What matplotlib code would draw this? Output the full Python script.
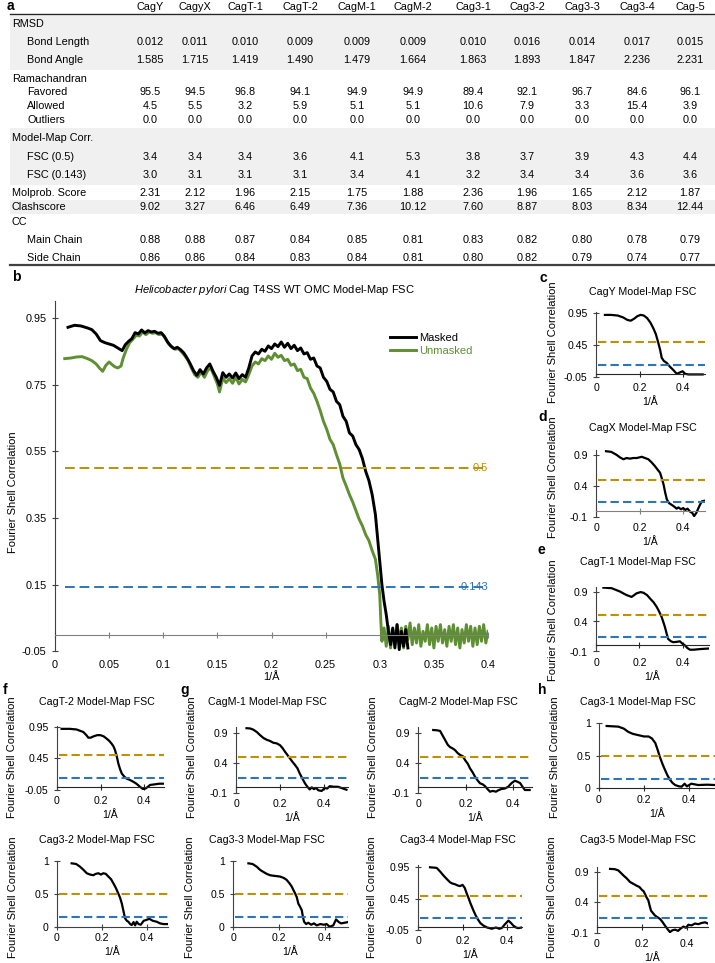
import matplotlib.pyplot as plt
from matplotlib.patches import Rectangle
from matplotlib.lines import Line2D
from matplotlib.ticker import FuncFormatter

plt.rcParams['font.family'] = ['Liberation Sans', 'DejaVu Sans']
plt.rcParams['mathtext.fontset'] = 'custom'
plt.rcParams['mathtext.it'] = 'Liberation Sans:italic'
plt.rcParams['mathtext.rm'] = 'Liberation Sans'

# --- Panel a: validation table ---
structures = ["CagY", "CagyX", "CagT-1", "CagT-2", "CagM-1", "CagM-2",
              "Cag3-1", "Cag3-2", "Cag3-3", "Cag3-4", "Cag-5"]
bond_length = [0.012, 0.011, 0.010, 0.009, 0.009, 0.009, 0.010, 0.016, 0.014, 0.017, 0.015]
bond_angle = [1.585, 1.715, 1.419, 1.490, 1.479, 1.664, 1.863, 1.893, 1.847, 2.236, 2.231]
rama_favored = [95.5, 94.5, 96.8, 94.1, 94.9, 94.9, 89.4, 92.1, 96.7, 84.6, 96.1]
rama_allowed = [4.5, 5.5, 3.2, 5.9, 5.1, 5.1, 10.6, 7.9, 3.3, 15.4, 3.9]
rama_outliers = [0.0, 0.0, 0.0, 0.0, 0.0, 0.0, 0.0, 0.0, 0.0, 0.0, 0.0]
fsc_05 = [3.4, 3.4, 3.4, 3.6, 4.1, 5.3, 3.8, 3.7, 3.9, 4.3, 4.4]
fsc_0143 = [3.0, 3.1, 3.1, 3.1, 3.4, 4.1, 3.2, 3.4, 3.4, 3.6, 3.6]
molprobity = [2.31, 2.12, 1.96, 2.15, 1.75, 1.88, 2.36, 1.96, 1.65, 2.12, 1.87]
clashscore = [9.02, 3.27, 6.46, 6.49, 7.36, 10.12, 7.60, 8.87, 8.03, 8.34, 12.44]
cc_main = [0.88, 0.88, 0.87, 0.84, 0.85, 0.81, 0.83, 0.82, 0.80, 0.78, 0.79]
cc_side = [0.86, 0.86, 0.84, 0.83, 0.84, 0.81, 0.80, 0.82, 0.79, 0.74, 0.77]

# --- Panel b: whole OMC model-map FSC ---
masked_x = [0.012, 0.018, 0.024, 0.030, 0.034, 0.038, 0.042, 0.046, 0.050, 0.054, 0.058, 0.062,
            0.065, 0.068, 0.071, 0.074, 0.077, 0.080, 0.083, 0.086, 0.089, 0.092, 0.095, 0.098,
            0.101, 0.104, 0.107, 0.110, 0.113, 0.116, 0.119, 0.122, 0.125, 0.128, 0.131, 0.134,
            0.137, 0.140, 0.143, 0.146, 0.149, 0.152, 0.155, 0.158, 0.161, 0.164, 0.167, 0.170,
            0.173, 0.176, 0.179, 0.182, 0.185, 0.188, 0.191, 0.194, 0.197, 0.200, 0.203, 0.206,
            0.209, 0.212, 0.215, 0.218, 0.221, 0.224, 0.227, 0.230, 0.233, 0.236, 0.239, 0.242,
            0.245, 0.248, 0.251, 0.254, 0.257, 0.260, 0.263, 0.266, 0.269, 0.272, 0.275, 0.278,
            0.281, 0.284, 0.287, 0.290, 0.293, 0.296, 0.298, 0.300, 0.302, 0.304, 0.306, 0.308,
            0.310, 0.312, 0.314, 0.316, 0.318, 0.320, 0.322, 0.324, 0.326]
masked_y = [0.922, 0.928, 0.926, 0.920, 0.915, 0.902, 0.882, 0.876, 0.872, 0.868, 0.860, 0.852,
            0.870, 0.880, 0.888, 0.906, 0.902, 0.914, 0.905, 0.912, 0.908, 0.910, 0.904, 0.906,
            0.895, 0.878, 0.866, 0.858, 0.862, 0.855, 0.845, 0.830, 0.812, 0.792, 0.778, 0.795,
            0.782, 0.800, 0.812, 0.790, 0.772, 0.748, 0.786, 0.772, 0.782, 0.770, 0.785, 0.768,
            0.780, 0.772, 0.800, 0.836, 0.848, 0.842, 0.856, 0.850, 0.866, 0.858, 0.872, 0.864,
            0.878, 0.862, 0.874, 0.858, 0.868, 0.852, 0.860, 0.842, 0.846, 0.826, 0.830, 0.806,
            0.800, 0.772, 0.760, 0.736, 0.728, 0.700, 0.690, 0.655, 0.640, 0.605, 0.596, 0.570,
            0.555, 0.528, 0.490, 0.462, 0.420, 0.360, 0.290, 0.220, 0.150, 0.100, 0.060, 0.010,
            -0.030, 0.020, -0.040, 0.030, -0.045, 0.010, -0.035, 0.015, -0.040]
unmasked_x = [0.009, 0.015, 0.020, 0.025, 0.030, 0.034, 0.038, 0.041, 0.044, 0.047, 0.050, 0.052,
              0.055, 0.058, 0.061, 0.063, 0.066, 0.069, 0.072, 0.075, 0.078, 0.081, 0.084, 0.087,
              0.090, 0.093, 0.096, 0.099, 0.102, 0.105, 0.108, 0.111, 0.114, 0.117, 0.120, 0.123,
              0.126, 0.129, 0.132, 0.135, 0.138, 0.141, 0.144, 0.147, 0.150, 0.152, 0.155, 0.158,
              0.161, 0.164, 0.167, 0.170, 0.173, 0.176, 0.179, 0.182, 0.185, 0.188, 0.191, 0.194,
              0.197, 0.200, 0.203, 0.206, 0.209, 0.212, 0.215, 0.218, 0.221, 0.224, 0.227, 0.230,
              0.233, 0.236, 0.239, 0.242, 0.245, 0.248, 0.251, 0.254, 0.257, 0.260, 0.263, 0.266,
              0.269, 0.272, 0.275, 0.278, 0.281, 0.284, 0.287, 0.290, 0.293, 0.296, 0.298, 0.300,
              0.301, 0.302, 0.304, 0.306, 0.308, 0.310, 0.312, 0.314, 0.316, 0.318, 0.320, 0.322,
              0.324, 0.326, 0.328, 0.330, 0.332, 0.334, 0.336, 0.338, 0.340, 0.342, 0.344, 0.346,
              0.348, 0.350, 0.352, 0.354, 0.356, 0.358, 0.360, 0.362, 0.364, 0.366, 0.368, 0.370,
              0.372, 0.374, 0.376, 0.378, 0.380, 0.382, 0.384, 0.386, 0.388, 0.390, 0.392, 0.394,
              0.396, 0.398, 0.400]
unmasked_y = [0.828, 0.830, 0.833, 0.834, 0.828, 0.822, 0.812, 0.800, 0.790, 0.808, 0.818, 0.812,
              0.804, 0.800, 0.806, 0.830, 0.856, 0.876, 0.886, 0.898, 0.896, 0.908, 0.900, 0.908,
              0.904, 0.906, 0.900, 0.902, 0.888, 0.872, 0.862, 0.856, 0.858, 0.848, 0.836, 0.822,
              0.800, 0.780, 0.772, 0.788, 0.772, 0.792, 0.800, 0.776, 0.752, 0.728, 0.770, 0.756,
              0.768, 0.754, 0.772, 0.752, 0.766, 0.758, 0.780, 0.806, 0.818, 0.812, 0.828, 0.822,
              0.836, 0.826, 0.844, 0.832, 0.838, 0.822, 0.826, 0.808, 0.812, 0.792, 0.796, 0.772,
              0.768, 0.740, 0.724, 0.700, 0.672, 0.640, 0.616, 0.586, 0.570, 0.540, 0.512, 0.470,
              0.446, 0.420, 0.398, 0.372, 0.346, 0.326, 0.300, 0.282, 0.252, 0.226, 0.180, 0.120,
              0.040, -0.020, 0.020, -0.035, 0.025, -0.040, 0.015, -0.030, 0.030, -0.020, 0.020, -0.040,
              0.025, -0.015, 0.035, -0.030, 0.020, -0.025, 0.030, -0.035, 0.010, -0.020, 0.030, -0.030,
              0.020, -0.040, 0.025, -0.020, 0.030, -0.025, 0.015, -0.035, 0.025, -0.020, 0.030, -0.030,
              0.020, -0.040, 0.015, -0.025, 0.030, -0.020, 0.025, -0.035, 0.020, -0.030, 0.025, -0.020,
              0.030, -0.025, 0.010]
fsc_thresholds = [0.5, 0.143]

# --- Panels c-h: per-chain model-map FSC ---
cagy_x = [0.041, 0.07, 0.10, 0.125, 0.145, 0.16, 0.175, 0.19, 0.205, 0.22, 0.235, 0.25, 0.263,
          0.275, 0.285, 0.295, 0.302, 0.312, 0.325, 0.34, 0.355, 0.371, 0.385, 0.398, 0.41,
          0.425, 0.446, 0.47, 0.49]
cagy_y = [0.92, 0.92, 0.91, 0.88, 0.84, 0.83, 0.86, 0.90, 0.92, 0.91, 0.87, 0.80, 0.715,
          0.62, 0.50, 0.37, 0.25, 0.20, 0.17, 0.11, 0.06, 0.0, 0.02, 0.04, 0.0,
          -0.01, -0.01, -0.01, -0.01]
cagx_x = [0.046, 0.07, 0.095, 0.11, 0.126, 0.14, 0.156, 0.17, 0.187, 0.21, 0.225, 0.24, 0.255,
          0.27, 0.283, 0.294, 0.302, 0.31, 0.318, 0.325, 0.335, 0.348, 0.36, 0.37, 0.378, 0.39,
          0.40, 0.41, 0.42, 0.432, 0.442, 0.45, 0.46, 0.47, 0.478, 0.486, 0.5]
cagx_y = [0.96, 0.95, 0.90, 0.86, 0.83, 0.85, 0.84, 0.85, 0.85, 0.87, 0.85, 0.83, 0.78,
          0.72, 0.66, 0.61, 0.52, 0.42, 0.28, 0.18, 0.12, 0.09, 0.06, 0.03, 0.05, 0.02,
          0.04, 0.01, 0.03, -0.02, -0.04, -0.09, -0.04, 0.04, 0.10, 0.15, 0.16]
cagt1_x = [0.034, 0.072, 0.11, 0.125, 0.141, 0.164, 0.187, 0.205, 0.218, 0.235, 0.248, 0.265,
           0.279, 0.29, 0.302, 0.31, 0.317, 0.325, 0.332, 0.345, 0.355, 0.37, 0.386, 0.398,
           0.41, 0.42, 0.432, 0.45, 0.478, 0.52]
cagt1_y = [0.965, 0.955, 0.90, 0.87, 0.84, 0.81, 0.87, 0.89, 0.88, 0.84, 0.786, 0.72,
           0.645, 0.57, 0.476, 0.39, 0.31, 0.20, 0.11, 0.07, 0.055, 0.06, 0.07, 0.03,
           0.0, -0.04, -0.07, -0.07, -0.06, -0.05]
cagt2_x = [0.021, 0.06, 0.09, 0.121, 0.135, 0.144, 0.155, 0.167, 0.185, 0.2, 0.215, 0.228,
           0.24, 0.251, 0.26, 0.267, 0.275, 0.282, 0.29, 0.298, 0.31, 0.32, 0.335, 0.351,
           0.365, 0.382, 0.397, 0.41, 0.428, 0.45, 0.47, 0.49]
cagt2_y = [0.92, 0.92, 0.91, 0.87, 0.82, 0.78, 0.78, 0.80, 0.82, 0.82, 0.80, 0.765,
           0.73, 0.685, 0.64, 0.58, 0.48, 0.37, 0.28, 0.21, 0.16, 0.13, 0.11, 0.08,
           0.05, 0.0, -0.04, -0.02, 0.03, 0.04, 0.05, 0.05]
cagm1_x = [0.048, 0.065, 0.079, 0.095, 0.109, 0.125, 0.14, 0.155, 0.17, 0.185, 0.2, 0.212,
           0.223, 0.235, 0.245, 0.257, 0.268, 0.28, 0.29, 0.302, 0.314, 0.325, 0.336, 0.345,
           0.355, 0.365, 0.375, 0.39, 0.405, 0.415, 0.427, 0.445, 0.464, 0.48, 0.503]
cagm1_y = [0.985, 0.98, 0.96, 0.92, 0.87, 0.82, 0.79, 0.77, 0.74, 0.73, 0.70, 0.65,
           0.59, 0.53, 0.48, 0.42, 0.37, 0.31, 0.225, 0.14, 0.057, 0.0, -0.045, -0.01,
           -0.04, -0.02, -0.06, -0.07, -0.02, -0.03, 0.01, 0.0, 0.0, -0.02, -0.05]
cagm2_x = [0.064, 0.08, 0.093, 0.104, 0.114, 0.125, 0.135, 0.145, 0.156, 0.167, 0.177, 0.188,
           0.198, 0.21, 0.219, 0.23, 0.24, 0.25, 0.261, 0.272, 0.282, 0.293, 0.303, 0.315,
           0.328, 0.338, 0.35, 0.366, 0.38, 0.394, 0.408, 0.42, 0.43, 0.44, 0.45, 0.47]
cagm2_y = [0.945, 0.94, 0.93, 0.85, 0.78, 0.70, 0.66, 0.64, 0.61, 0.56, 0.53, 0.51,
           0.445, 0.38, 0.306, 0.24, 0.167, 0.11, 0.057, 0.04, 0.01, -0.04, -0.083, -0.07,
           -0.083, -0.06, -0.04, -0.03, 0.0, 0.06, 0.10, 0.08, 0.06, 0.0, -0.055, -0.055]
cag31_x = [0.034, 0.06, 0.086, 0.11, 0.13, 0.15, 0.175, 0.2, 0.22, 0.235, 0.25, 0.26, 0.27,
           0.282, 0.293, 0.305, 0.316, 0.327, 0.338, 0.355, 0.367, 0.38, 0.39, 0.41, 0.44,
           0.48, 0.515]
cag31_y = [0.95, 0.945, 0.94, 0.91, 0.86, 0.83, 0.81, 0.79, 0.79, 0.76, 0.69, 0.59, 0.48,
           0.37, 0.28, 0.19, 0.127, 0.08, 0.05, 0.03, 0.025, 0.07, 0.03, 0.07, 0.05,
           0.055, 0.05]
cag32_x = [0.065, 0.085, 0.102, 0.118, 0.132, 0.147, 0.161, 0.172, 0.184, 0.195, 0.206, 0.217,
           0.228, 0.24, 0.25, 0.261, 0.272, 0.28, 0.288, 0.295, 0.302, 0.31, 0.317, 0.325,
           0.332, 0.34, 0.347, 0.354, 0.362, 0.372, 0.385, 0.395, 0.41, 0.425, 0.443, 0.458,
           0.473, 0.495]
cag32_y = [0.96, 0.95, 0.91, 0.86, 0.81, 0.79, 0.78, 0.80, 0.81, 0.79, 0.81, 0.80,
           0.76, 0.72, 0.66, 0.59, 0.505, 0.44, 0.35, 0.24, 0.13, 0.09, 0.075, 0.04,
           0.025, 0.07, 0.02, 0.075, 0.04, 0.03, 0.09, 0.10, 0.12, 0.09, 0.075, 0.05,
           0.04, 0.04]
cag33_x = [0.067, 0.085, 0.103, 0.118, 0.132, 0.147, 0.161, 0.18, 0.204, 0.22, 0.233, 0.245,
           0.255, 0.262, 0.27, 0.277, 0.284, 0.292, 0.299, 0.304, 0.309, 0.318, 0.327, 0.34,
           0.352, 0.364, 0.38, 0.395, 0.407, 0.42, 0.436, 0.448, 0.46, 0.47, 0.485, 0.5]
cag33_y = [0.96, 0.95, 0.91, 0.86, 0.83, 0.80, 0.78, 0.77, 0.76, 0.74, 0.71, 0.66,
           0.61, 0.56, 0.505, 0.45, 0.35, 0.30, 0.25, 0.15, 0.075, 0.04, 0.06, 0.03,
           0.05, 0.02, 0.04, 0.03, 0.04, 0.0, 0.02, 0.11, 0.07, 0.05, 0.06, 0.07]
cag34_x = [0.054, 0.07, 0.084, 0.1, 0.114, 0.13, 0.144, 0.155, 0.166, 0.178, 0.189, 0.2,
           0.21, 0.219, 0.227, 0.234, 0.242, 0.249, 0.258, 0.268, 0.28, 0.294, 0.31, 0.331,
           0.35, 0.365, 0.376, 0.39, 0.406, 0.418, 0.428, 0.44, 0.45, 0.466]
cag34_y = [0.95, 0.945, 0.94, 0.88, 0.82, 0.76, 0.71, 0.69, 0.68, 0.66, 0.65, 0.67,
           0.62, 0.53, 0.46, 0.39, 0.32, 0.26, 0.19, 0.125, 0.06, 0.02, -0.01, -0.03,
           -0.01, -0.03, -0.02, 0.04, 0.10, 0.06, 0.02, -0.01, -0.02, -0.01]
cag35_x = [0.058, 0.08, 0.095, 0.106, 0.117, 0.132, 0.147, 0.162, 0.176, 0.188, 0.2, 0.207,
           0.213, 0.22, 0.228, 0.234, 0.24, 0.249, 0.258, 0.27, 0.28, 0.29, 0.302, 0.313,
           0.324, 0.335, 0.347, 0.36, 0.372, 0.384, 0.395, 0.406, 0.42, 0.435, 0.45, 0.465,
           0.48, 0.493]
cag35_y = [0.946, 0.94, 0.92, 0.88, 0.84, 0.79, 0.73, 0.70, 0.67, 0.65, 0.60, 0.58,
           0.535, 0.48, 0.43, 0.34, 0.26, 0.22, 0.18, 0.15, 0.125, 0.08, 0.016, -0.04,
           -0.09, -0.06, -0.05, -0.07, -0.03, 0.0, -0.02, 0.03, 0.02, 0.05, 0.04, 0.06,
           0.07, 0.05]

GOLD, BLUE, GREEN = '#bf9000', '#2e75b6', '#5e8f32'
W, H = 715, 963
fig = plt.figure(figsize=(W / 100, H / 100), dpi=100)
fmt = FuncFormatter(lambda v, p: f'{v:g}')


def fx(px):
    return px / W


def fy(py):
    return 1 - py / H


def px_axes(x0, y0, x1, y1):
    return fig.add_axes([fx(x0), fy(y1), (x1 - x0) / W, (y1 - y0) / H])


def style_axes(ax, xticks, yticks, zero_color, fs, label_pad, xlabel_pad):
    for s in ['top', 'right']:
        ax.spines[s].set_visible(False)
    ax.spines['left'].set_color('#404040')
    ax.spines['bottom'].set_position(('data', 0))
    ax.spines['bottom'].set_color(zero_color)
    ax.set_xticks(xticks)
    ax.set_yticks(yticks)
    ax.yaxis.set_major_formatter(fmt)
    ax.tick_params(axis='x', direction='inout', length=5, color=zero_color, labelbottom=False)
    ax.tick_params(axis='y', direction='inout', length=5, color='#404040', labelsize=fs, pad=3.5)
    sec = ax.secondary_xaxis('bottom')
    sec.set_xticks(xticks)
    sec.xaxis.set_major_formatter(fmt)
    sec.tick_params(length=0, pad=label_pad, labelsize=fs)
    sec.spines['bottom'].set_visible(False)
    sec.set_xlabel('1/Å', fontsize=fs, labelpad=xlabel_pad)


# --- Table (panel a) ---
fig.text(fx(7), fy(6), 'a', fontsize=10, fontweight='bold', va='center')
col_x = [150, 195, 245, 300, 357, 413, 473, 527, 582, 637, 690]
for x, name in zip(col_x, structures):
    fig.text(fx(x), fy(7), name, ha='center', va='center', fontsize=7.8)
for y0, y1 in [(16, 70), (128, 185), (200, 214)]:
    fig.add_artist(Rectangle((fx(10), fy(y1)), fx(715) - fx(10), (y1 - y0) / H,
                             facecolor='#f0f0f0', lw=0, zorder=0))
fig.add_artist(Line2D([fx(10), fx(715)], [fy(14), fy(14)], color='#262626', lw=1.0))
fig.add_artist(Line2D([fx(10), fx(715)], [fy(265), fy(265)], color='#404040', lw=1.6))

table_rows = [
    ('RMSD', 12, 24, None, None),
    ('Bond Length', 27, 42, bond_length, '{:.3f}'),
    ('Bond Angle', 27, 60, bond_angle, '{:.3f}'),
    ('Ramachandran', 12, 79, None, None),
    ('Favored', 27, 92, rama_favored, '{:.1f}'),
    ('Allowed', 27, 106, rama_allowed, '{:.1f}'),
    ('Outliers', 27, 120, rama_outliers, '{:.1f}'),
    ('Model-Map Corr.', 12, 138, None, None),
    ('FSC (0.5)', 27, 157, fsc_05, '{:.1f}'),
    ('FSC (0.143)', 27, 175, fsc_0143, '{:.1f}'),
    ('Molprob. Score', 12, 193, molprobity, '{:.2f}'),
    ('Clashscore', 12, 207, clashscore, '{:.2f}'),
    ('CC', 12, 222, None, None),
    ('Main Chain', 27, 240, cc_main, '{:.2f}'),
    ('Side Chain', 27, 258, cc_side, '{:.2f}'),
]
for label, indent, y, vals, f in table_rows:
    fig.text(fx(indent), fy(y), label, va='center', fontsize=7.8)
    if vals is not None:
        for x, v in zip(col_x, vals):
            fig.text(fx(x), fy(y), f.format(v), ha='center', va='center', fontsize=7.8)

# --- Main FSC (panel b) ---
fig.text(fx(12), fy(277), 'b', fontsize=10, fontweight='bold', va='center')
fig.text(fx(275), fy(290), r'$\it{Helicobacter\ pylori}$ Cag T4SS WT OMC Model-Map FSC',
         ha='center', va='center', fontsize=8)
ax = px_axes(55, 301.3, 488, 651.3)
ax.set_xlim(0, 0.4)
ax.set_ylim(-0.05, 1.0)
l_un, = ax.plot(unmasked_x, unmasked_y, color=GREEN, lw=2.1)
l_m, = ax.plot(masked_x, masked_y, color='black', lw=2.1)
for thr, c in zip(fsc_thresholds, [GOLD, BLUE]):
    ax.hlines(thr, unmasked_x[0], 0.4, colors=c, linestyles=(0, (5, 2.5)), lw=1.4)
    ax.text(0.4, thr, f'{thr:g}', color=c, ha='right', va='center', fontsize=8)
ax.legend(handles=[l_m, l_un], labels=['Masked', 'Unmasked'], loc='upper left',
          bbox_to_anchor=((390 - 55) / 433, 1 - (333 - 301.3) / 350), frameon=False,
          fontsize=8, handlelength=2.3, handletextpad=0.3, borderpad=0, borderaxespad=0,
          labelspacing=0.3, labelcolor='linecolor')
style_axes(ax, [0, 0.05, 0.1, 0.15, 0.2, 0.25, 0.3, 0.35, 0.4],
           [-0.05, 0.15, 0.35, 0.55, 0.75, 0.95], '#808080', 7.8, 6.5, 1.5)
fig.text(fx(13), fy(492), 'Fourier Shell Correlation', rotation=90, ha='center', va='center',
         fontsize=8)

# --- Small panels ---
panels = [
    # letter, title, x, y, box, xmax, ylim, yticks, title pos, ylabel pos, letter pos, zero color
    ('c', 'CagY', cagy_x, cagy_y, (596, 311.7, 704.8, 377), 0.5, (-0.05, 0.97),
     [-0.05, 0.45, 0.95], (643, 292), (553, 342), (540, 278), '#262626'),
    ('d', 'CagX', cagx_x, cagx_y, (596, 450.0, 705, 516.7), 0.5, (-0.1, 0.98),
     [-0.1, 0.4, 0.9], (643, 428), (553, 477), (538, 417), '#808080'),
    ('e', 'CagT-1', cagt1_x, cagt1_y, (596, 586.7, 709, 651.5), 0.52, (-0.1, 0.98),
     [-0.1, 0.4, 0.9], (638, 562), (553, 620), (537, 550), '#262626'),
    ('f', 'CagT-2', cagt2_x, cagt2_y, (57, 725.7, 163.6, 790), 0.49, (-0.05, 0.97),
     [-0.05, 0.45, 0.95], (97, 702), (12, 757), (3, 690), '#262626'),
    ('g', 'CagM-1', cagm1_x, cagm1_y, (236, 727.3, 348, 792.7), 0.51, (-0.1, 1.0),
     [-0.1, 0.4, 0.9], (267, 702), (192, 757), (180, 690), '#262626'),
    (None, 'CagM-2', cagm2_x, cagm2_y, (418, 726.7, 532, 792.7), 0.48, (-0.1, 1.0),
     [-0.1, 0.4, 0.9], (458, 702), (373, 757), None, '#262626'),
    ('h', 'Cag3-1', cag31_x, cag31_y, (599, 722.7, 715, 788.3), 0.515, (0, 1.0),
     [0, 0.5, 1], (638, 702), (555, 757), (538, 690), '#262626'),
    (None, 'Cag3-2', cag32_x, cag32_y, (57, 860.7, 168, 926.7), 0.493, (0, 1.0),
     [0, 0.5, 1], (97, 840), (13, 897), None, '#404040'),
    (None, 'Cag3-3', cag33_x, cag33_y, (233, 860.7, 348, 926.7), 0.5, (0, 1.0),
     [0, 0.5, 1], (267, 840), (190, 897), None, '#404040'),
    (None, 'Cag3-4', cag34_x, cag34_y, (418, 865.4, 522, 930), 0.467, (-0.05, 0.98),
     [-0.05, 0.45, 0.95], (458, 840), (372, 897), None, '#262626'),
    (None, 'Cag3-5', cag35_x, cag35_y, (597, 866.8, 708, 932.7), 0.493, (-0.1, 0.98),
     [-0.1, 0.4, 0.9], (638, 840), (552, 897), None, '#262626'),
]
for letter, name, xs, ys, box, xmax, ylim, yticks, tpos, ypos, lpos, zc in panels:
    a = px_axes(*box)
    a.set_xlim(0, xmax)
    a.set_ylim(*ylim)
    a.plot(xs, ys, color='black', lw=1.6)
    for thr, c in zip(fsc_thresholds, [GOLD, BLUE]):
        a.hlines(thr, 0.01, xmax, colors=c, linestyles=(0, (4, 2)), lw=1.5)
    style_axes(a, [0, 0.2, 0.4], yticks, zc, 7.6, 4.5, 3.0)
    fig.text(fx(tpos[0]), fy(tpos[1]), f'{name} Model-Map FSC', ha='center', va='center',
             fontsize=7.7)
    fig.text(fx(ypos[0]), fy(ypos[1]), 'Fourier Shell Correlation', rotation=90,
             ha='center', va='center', fontsize=8)
    if letter:
        fig.text(fx(lpos[0]), fy(lpos[1]), letter, fontsize=10, fontweight='bold', va='center')

plt.savefig('out.png', dpi=100)
